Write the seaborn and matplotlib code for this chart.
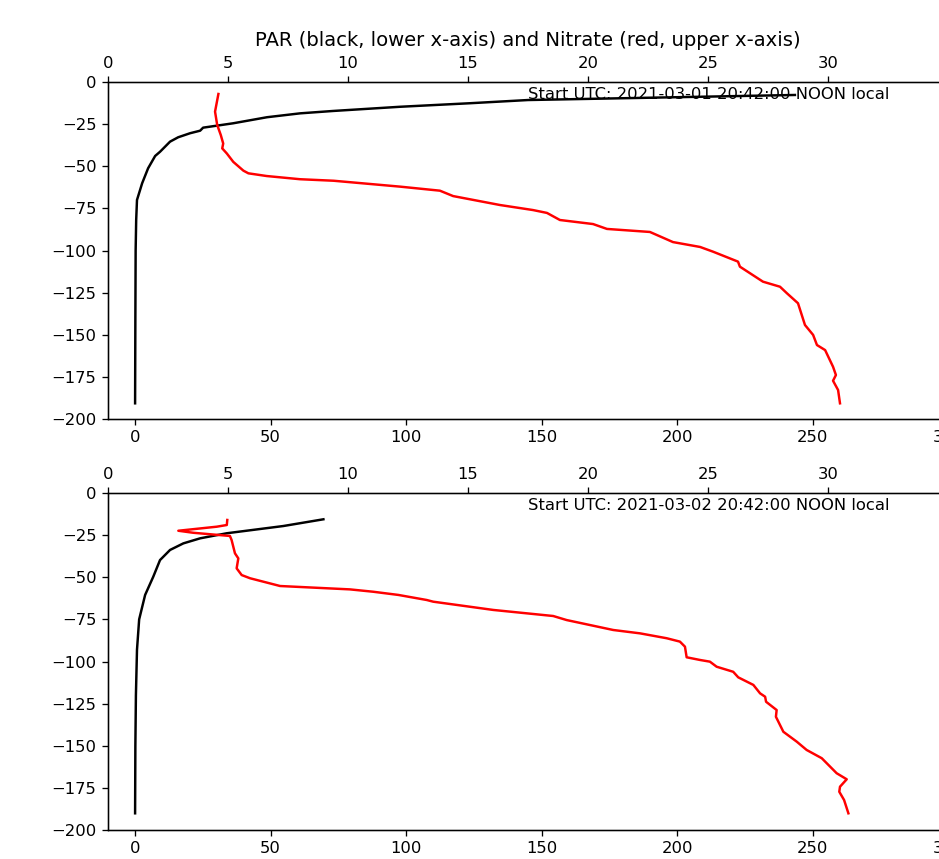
import matplotlib
matplotlib.use("Agg")
import matplotlib.pyplot as plt
import seaborn as sns
import pandas as pd

# Profile 1 (2021-03-01): PAR, depth in m (negative downward)
par_1 = [243.5, 197.4, 145.0, 123.6, 97.8, 73.0, 60.9, 48.7, 36.2, 25.1, 24.0,
         20.3, 15.9, 12.9, 9.2, 7.4, 4.8, 2.6, 0.7, 0.4, 0.2, 0.1, 0.0]
par_depth_1 = [-7.7, -9.1, -10.7, -12.6, -14.7, -17.2, -18.6, -20.9, -24.5, -27.1, -28.9,
               -30.4, -32.8, -35.4, -41.4, -43.9, -51.2, -60.1, -70.0, -81.9, -100.0, -140.0, -190.7]

# Profile 1: Nitrate
no3_1 = [4.60, 4.46, 4.55, 4.70, 4.80, 4.76, 4.95, 5.22, 5.64, 5.85, 6.61, 8.0, 9.4,
         12.17, 13.83, 14.38, 16.33, 17.71, 18.29, 18.83, 20.21, 20.79, 22.58, 23.54,
         24.67, 25.21, 26.25, 26.33, 27.29, 28.0, 28.29, 28.75, 29.04, 29.38, 29.54,
         29.88, 30.21, 30.33, 30.21, 30.42, 30.5]
no3_depth_1 = [-7.1, -17.6, -25.5, -31.5, -36.5, -39.4, -42.4, -47.4, -52.6, -54.2, -55.8,
               -57.7, -58.6, -62.1, -64.5, -67.7, -73.0, -76.0, -77.7, -81.9, -84.3, -87.2,
               -89.0, -95.0, -97.9, -100.7, -106.6, -109.6, -118.5, -121.5, -125.4, -131.3,
               -144.2, -150.1, -156.1, -159.1, -169.0, -173.9, -177.3, -182.8, -190.7]

# Profile 2 (2021-03-02): PAR
par_2 = [69.5, 54.7, 33.8, 24.0, 17.8, 12.9, 9.2, 6.7, 3.7, 1.5, 0.7, 0.3, 0.1, 0.0]
par_depth_2 = [-15.6, -19.6, -23.9, -26.9, -29.9, -33.8, -39.8, -49.7, -60.5, -75.0,
               -93.0, -120.0, -150.0, -190.1]

# Profile 2: Nitrate
no3_2 = [4.97, 4.95, 4.53, 2.93, 3.55, 5.08, 5.15, 5.29, 5.43, 5.36, 5.57, 5.92, 7.17,
         10.08, 11.05, 12.1, 13.28, 13.55, 16.05, 18.55, 19.11, 21.05, 22.17, 23.28,
         23.83, 24.04, 24.11, 24.67, 25.08, 25.36, 26.05, 26.26, 26.89, 27.17, 27.38,
         27.42, 27.86, 27.83, 28.14, 28.70, 29.11, 29.74, 30.36, 30.78, 30.5, 30.47,
         30.67, 30.85]
no3_depth_2 = [-16.0, -19.0, -20.0, -22.4, -23.6, -25.5, -27.9, -35.8, -38.8, -44.7, -48.7,
               -50.6, -55.2, -57.2, -58.6, -60.5, -63.5, -64.5, -69.4, -73.0, -75.4, -81.3,
               -83.3, -86.2, -88.2, -91.2, -97.5, -99.1, -100.1, -103.1, -106.1, -109.4,
               -113.9, -118.9, -120.9, -123.9, -128.8, -132.8, -141.7, -147.6, -152.5,
               -157.4, -166.3, -169.9, -174.3, -177.3, -182.2, -190.1]

start_labels = ["Start UTC: 2021-03-01 20:42:00 NOON local",
                "Start UTC: 2021-03-02 20:42:00 NOON local"]
title = "PAR (black, lower x-axis) and Nitrate (red, upper x-axis)"

profiles = [
    (par_1, par_depth_1, no3_1, no3_depth_1),
    (par_2, par_depth_2, no3_2, no3_depth_2),
]

DPI = 118
W, H = 939.0, 859.0
fig = plt.figure(figsize=(W / DPI, H / DPI), dpi=DPI)

left = 108 / W
width = 840 / W
panel_boxes = [
    (left, 1 - 419 / H, width, 337 / H),
    (left, 1 - 830 / H, width, 337 / H),
]

for i, ((par, pdep, no3, ndep), box) in enumerate(zip(profiles, panel_boxes)):
    ax = fig.add_axes(box)
    df_par = pd.DataFrame({"par": par, "depth": pdep})
    df_no3 = pd.DataFrame({"no3": no3, "depth": ndep})

    sns.lineplot(data=df_par, x="par", y="depth", sort=False, estimator=None,
                 color="black", linewidth=1.5, ax=ax)
    ax.set_xlim(-10, 300)
    ax.set_ylim(-200, 0)
    ax.set_xlabel("")
    ax.set_ylabel("")

    ax2 = ax.twiny()
    sns.lineplot(data=df_no3, x="no3", y="depth", sort=False, estimator=None,
                 color="red", linewidth=1.5, ax=ax2)
    ax2.set_xlim(0, 35)
    ax2.set_xlabel("")
    ax2.set_ylabel("")
    ax2.text(0.5, 0.95, start_labels[i], transform=ax2.transAxes,
             ha="left", va="baseline", fontsize=10)
    if i == 0:
        ax2.set_title(title, fontsize=12)

fig.savefig("out.png", dpi=DPI)
